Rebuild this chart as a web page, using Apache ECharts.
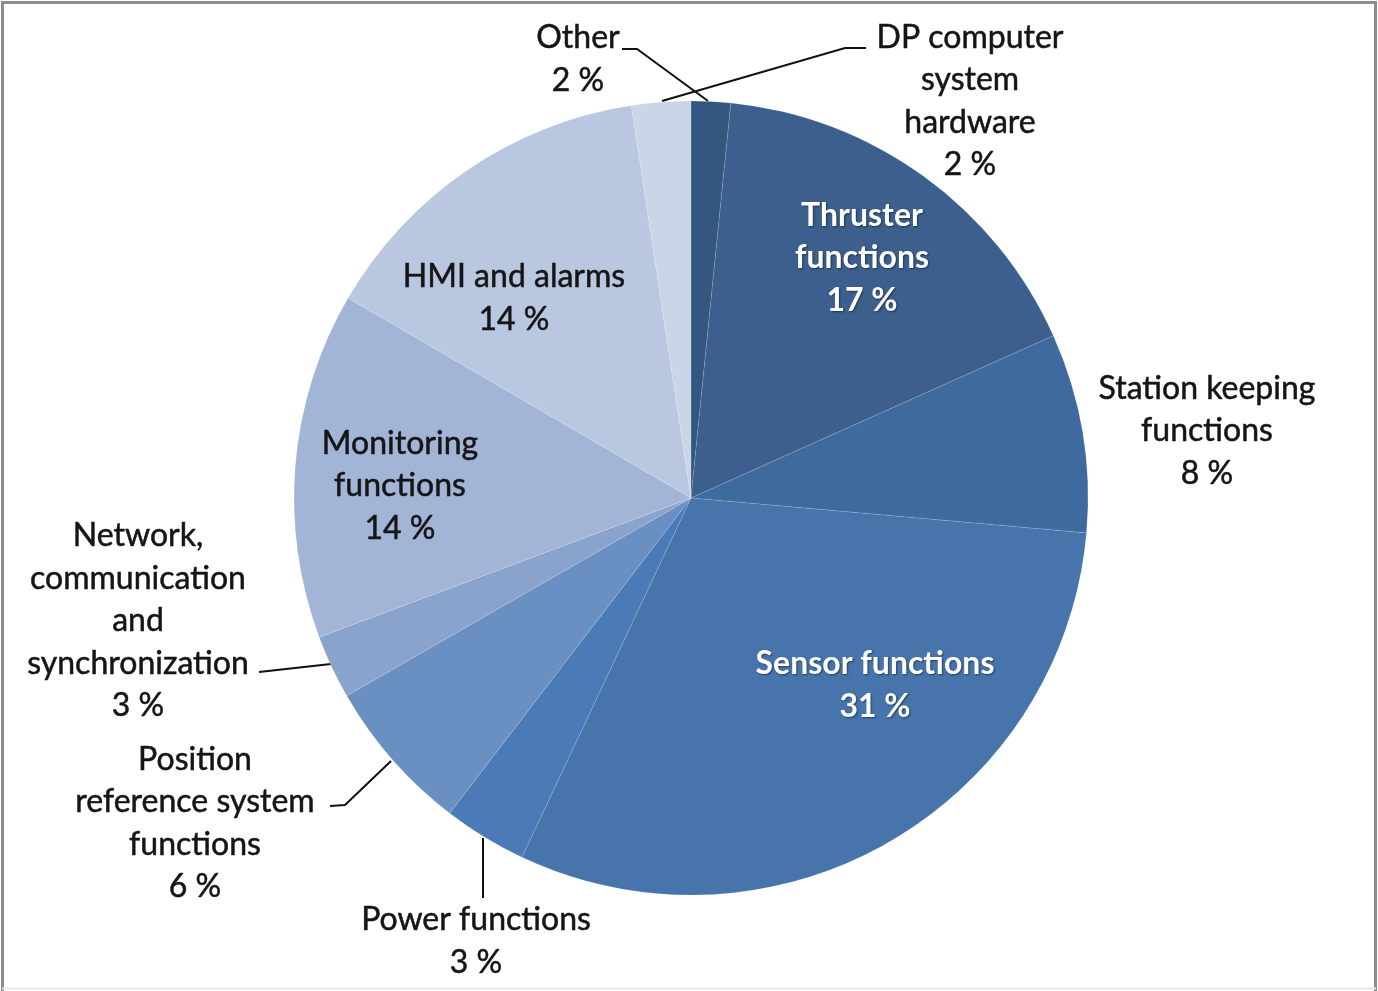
<!DOCTYPE html>
<html>
<head>
<meta charset="utf-8">
<script src="https://cdn.jsdelivr.net/npm/echarts@6/dist/echarts.min.js"></script>
<style>
  html, body { margin: 0; padding: 0; background: #fff; }
  #chart { width: 1378px; height: 991px; }
</style>
</head>
<body>
<div id="chart"></div>
<script>
// slice names, clockwise from 12 o'clock
var categories = [
  'DP computer\nsystem\nhardware',
  'Thruster\nfunctions',
  'Station keeping\nfunctions',
  'Sensor functions',
  'Power functions',
  'Position\nreference system\nfunctions',
  'Network,\ncommunication\nand\nsynchronization',
  'Monitoring\nfunctions',
  'HMI and alarms',
  'Other'
];
// share of each slice (%)
var values = [1.6, 16.7, 8.1, 30.6, 3.4, 6.3, 2.6, 14.1, 14.2, 2.4];
var colors = ['#34577f', '#3c5f8e', '#3f6a9e', '#4674ab', '#4a7bb6',
              '#6a8fc3', '#8aa3cc', '#a3b5d7', '#bac7e0', '#cbd5e8'];

// label placement: text centre and (optional) leader line
var labelPos = [
  { x: 970, y: 101, line: [[662, 101], [845, 48], [866, 48]] },
  { x: 862, y: 258, white: true },
  { x: 1207, y: 431 },
  { x: 875, y: 685, white: true },
  { x: 476, y: 941, line: [[483, 838], [483, 898]] },
  { x: 195, y: 823, line: [[391, 761], [345, 805], [330, 806]] },
  { x: 138, y: 621, line: [[331, 664], [259, 672]] },
  { x: 400, y: 486 },
  { x: 514, y: 298 },
  { x: 578, y: 59, line: [[708, 101], [637, 49], [622, 49]] }
];

var chart = echarts.init(document.getElementById('chart'));

var data = categories.map(function (name, i) {
  var p = labelPos[i];
  return {
    name: name,
    value: values[i],
    itemStyle: { color: colors[i] },
    label: p.white ? {
      color: '#ffffff',
      fontWeight: 'bold',
      textShadowColor: 'rgba(0,0,0,0.45)',
      textShadowBlur: 2,
      textShadowOffsetX: 1,
      textShadowOffsetY: 1
    } : {
      color: '#151515',
      textBorderColor: '#151515',
      textBorderWidth: 0.5
    },
    labelLine: { show: !!p.line }
  };
});

var option = {
  animation: false,
  graphic: [
    {
      type: 'polyline',
      shape: { points: [[2.5, 991], [2.5, 2.5], [1375.5, 2.5], [1375.5, 991]] },
      style: { stroke: '#8c8c8c', lineWidth: 3, fill: null }
    },
    {
      type: 'line',
      shape: { x1: 2, y1: 988.5, x2: 1376, y2: 988.5 },
      style: { stroke: '#e6e6e6', lineWidth: 2 }
    }
  ],
  series: [
    {
      type: 'pie',
      center: [691, 498],
      radius: 397,
      startAngle: 90,
      clockwise: true,
      data: data,
      itemStyle: { borderColor: 'rgba(255,255,255,0.12)', borderWidth: 1 },
      label: {
        show: true,
        position: 'outside',
        fontFamily: 'Lato',
        fontSize: 32,
        lineHeight: 42.5,
        align: 'center',
        formatter: function (params) {
          return params.name + '\n' + Math.round(params.percent) + ' %';
        }
      },
      labelLine: {
        lineStyle: { color: '#111', width: 2 }
      },
      labelLayout: function (params) {
        var p = labelPos[params.dataIndex];
        var res = { x: p.x, y: p.y, align: 'center', verticalAlign: 'middle' };
        if (p.line) res.labelLinePoints = p.line;
        return res;
      }
    }
  ]
};

chart.setOption(option);
</script>
</body>
</html>
